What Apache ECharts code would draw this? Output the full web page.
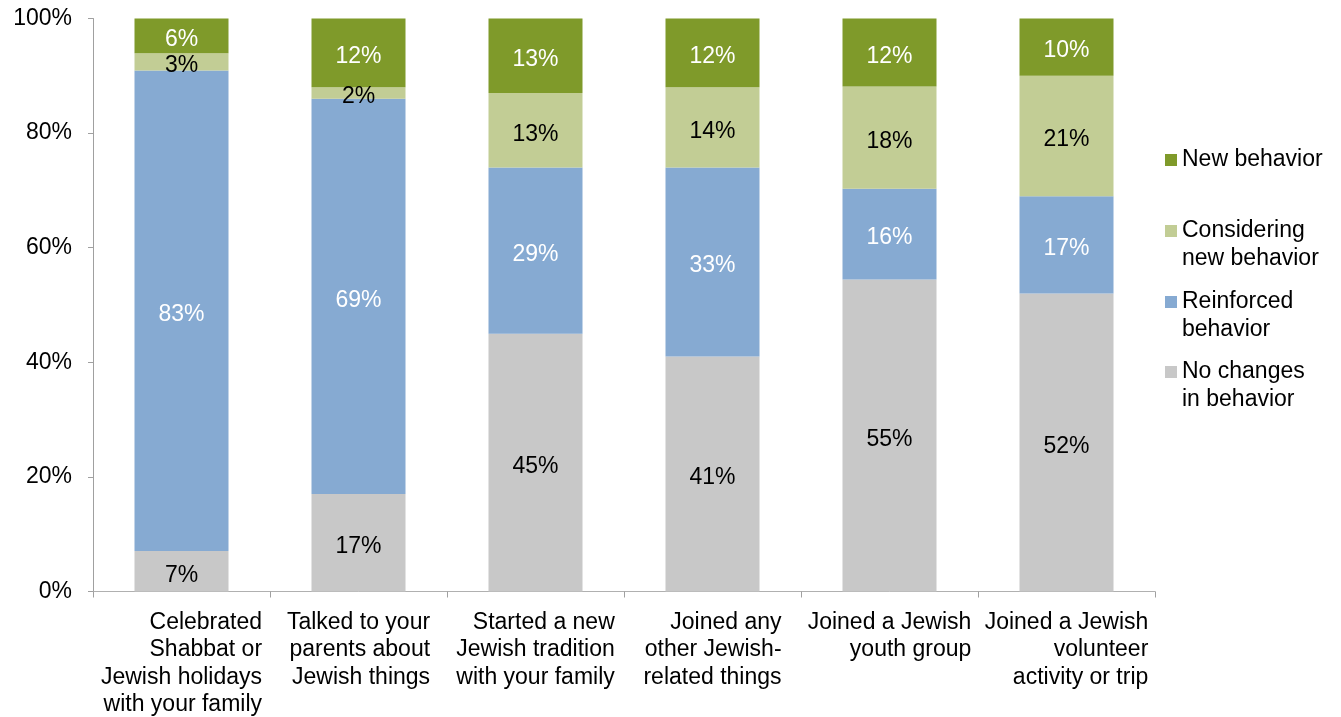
<!DOCTYPE html>
<html>
<head>
<meta charset="utf-8">
<script src="https://cdn.jsdelivr.net/npm/echarts@6/dist/echarts.min.js"></script>
<style>
  html, body { margin: 0; padding: 0; background: #fff; }
  #chart { width: 1341px; height: 717px; }
</style>
</head>
<body>
<div id="chart"></div>
<script>
  const categories = [
    'Celebrated\nShabbat or\nJewish holidays\nwith your family',
    'Talked to your\nparents about\nJewish things',
    'Started a new\nJewish tradition\nwith your family',
    'Joined any\nother Jewish-\nrelated things',
    'Joined a Jewish\nyouth group',
    'Joined a Jewish\nvolunteer\nactivity or trip'
  ];
  const noChanges = [7, 17, 45, 41, 55, 52];
  const reinforced = [83, 69, 29, 33, 16, 17];
  const considering = [3, 2, 13, 14, 18, 21];
  const newBehavior = [6, 12, 13, 12, 12, 10];
  const yTicks = [0, 20, 40, 60, 80, 100];

  const font = 'Liberation Sans, Arial, Helvetica, sans-serif';
  const fontSize = 23;

  // 100% stacked: each column is scaled to its own total
  let totals = categories.map((c, i) =>
    noChanges[i] + reinforced[i] + considering[i] + newBehavior[i]);

  function toPct(arr) {
    return arr.map((v, i) => ({ value: v / totals[i] * 100, raw: v }));
  }

  function makeSeries(name, arr, color, labelColor) {
    return {
      name: name,
      type: 'bar',
      stack: 'total',
      barWidth: 94,
      data: toPct(arr),
      itemStyle: { color: color },
      label: {
        show: true,
        position: 'inside',
        offset: [0, 4],
        color: labelColor,
        fontSize: fontSize,
        fontFamily: font,
        formatter: p => p.data.raw + '%'
      }
    };
  }

  // icon sits on the first line of the legend text, like the original
  function legendFor(name, top, twoLines) {
    return {
      left: 1165,
      top: top,
      padding: 0,
      orient: 'vertical',
      icon: 'rect',
      itemWidth: 12,
      itemHeight: 12,
      selectedMode: false,
      formatter: n => twoLines ? '\n' + n : n,
      textStyle: { fontSize: fontSize, lineHeight: 28, color: '#000', fontFamily: font },
      data: [name]
    };
  }

  let chart = echarts.init(document.getElementById('chart'));

  let option = {
    animation: false,
    grid: { left: 93, right: 186, top: 18.5, bottom: 125.5, outerBoundsMode: 'none' },
    legend: [
      legendFor('New behavior', 146, false),
      legendFor('Considering\nnew behavior', 189, true),
      legendFor('Reinforced\nbehavior', 260, true),
      legendFor('No changes\nin behavior', 330, true)
    ],
    xAxis: {
      type: 'category',
      data: categories,
      axisLine: { lineStyle: { color: '#b0b0b0', width: 1 } },
      axisTick: { show: true, length: 6, lineStyle: { color: '#a0a0a0' } },
      axisLabel: {
        interval: 0,
        margin: 17,
        align: 'center',
        formatter: v => v.split('\n').map(l => '{r|' + l + '}').join('\n'),
        rich: {
          r: {
            align: 'right',
            color: '#000',
            fontSize: fontSize,
            lineHeight: 27.5,
            fontFamily: font
          }
        }
      }
    },
    yAxis: {
      type: 'value',
      min: yTicks[0],
      max: yTicks[yTicks.length - 1],
      interval: 20,
      splitLine: { show: false },
      axisLine: { show: true, lineStyle: { color: '#a0a0a0', width: 1 } },
      axisTick: { show: true, length: 5, lineStyle: { color: '#a0a0a0' } },
      axisLabel: {
        margin: 21,
        color: '#000',
        fontSize: fontSize,
        fontFamily: font,
        formatter: '{value}%'
      }
    },
    series: [
      makeSeries('No changes\nin behavior', noChanges, '#c8c8c8', '#000'),
      makeSeries('Reinforced\nbehavior', reinforced, '#86aad2', '#fff'),
      makeSeries('Considering\nnew behavior', considering, '#c2cd95', '#000'),
      makeSeries('New behavior', newBehavior, '#7f9a2a', '#fff')
    ]
  };

  chart.setOption(option);
</script>
</body>
</html>
